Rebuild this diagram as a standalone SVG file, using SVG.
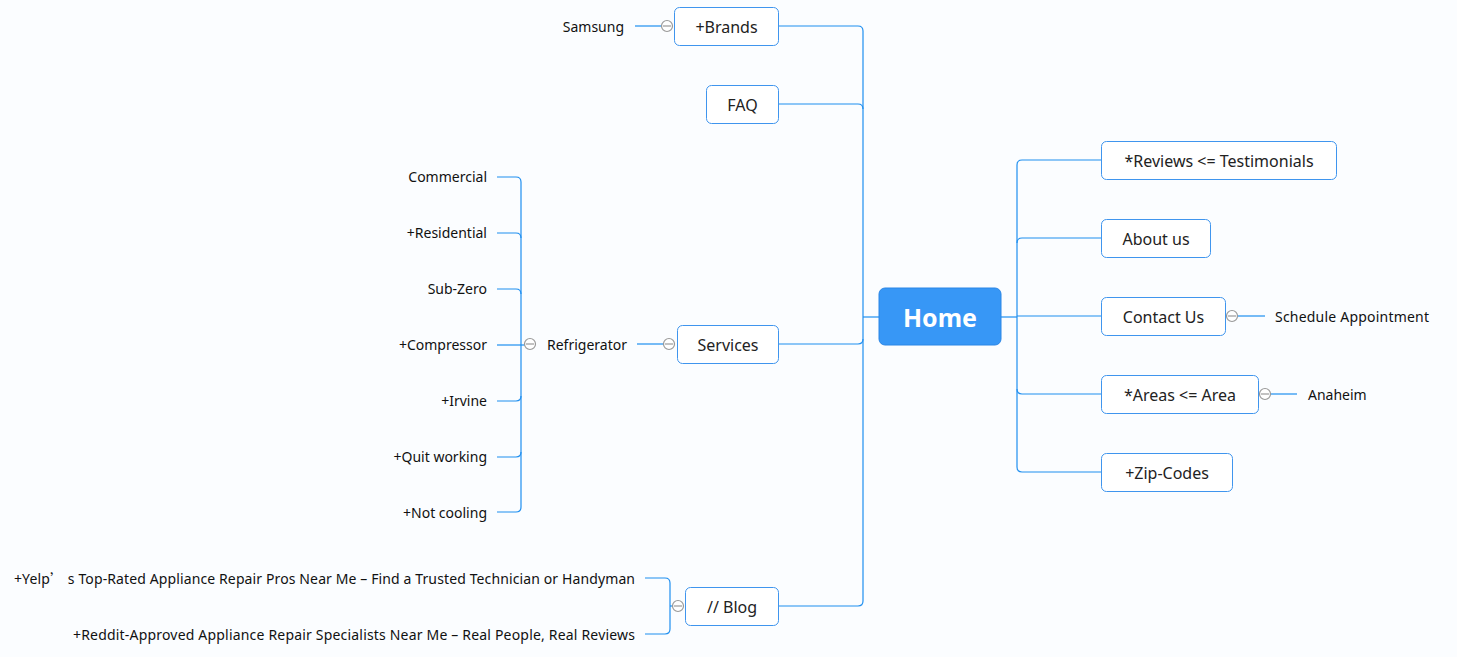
<svg xmlns="http://www.w3.org/2000/svg" width="1457" height="657" viewBox="0 0 1457 657">
<style>
.bg{fill:#fbfdff}
.node{fill:#ffffff;stroke:#3f95ee;stroke-width:1}
.root{fill:#3797f6;stroke:#2b86e6;stroke-width:1}
.t{font-family:"Noto Sans","Open Sans",sans-serif;font-size:16px;fill:#222;text-anchor:middle;dominant-baseline:central}
.s{font-family:"Noto Sans","Open Sans",sans-serif;font-size:14px;fill:#111;dominant-baseline:central}
.r{text-anchor:end}
.cjk{font-family:"Noto Sans CJK SC",sans-serif}
.rt{font-family:"Noto Sans","Open Sans",sans-serif;font-size:25px;font-weight:bold;fill:#fff;text-anchor:middle;dominant-baseline:central}
.c{fill:none;stroke:#1f8ff0;stroke-width:1.2}
.col circle{fill:#fff;stroke:#999;stroke-width:1.2}
.col line{stroke:#999;stroke-width:1.2}
</style>
<rect class="bg" x="0" y="0" width="1457" height="657"/>
<g id="connectors">
  <path class="c" d="M1001 317 H1017"/>
  <path class="c" d="M1101 160 H1022 Q1017 160 1017 165 V467 Q1017 472 1022 472 H1101"/>
  <path class="c" d="M1017 243 Q1017 238 1022 238 H1101"/>
  <path class="c" d="M1017 316 H1101"/>
  <path class="c" d="M1017 389 Q1017 394 1022 394 H1101"/>
  <path class="c" d="M879 317 H863"/>
  <path class="c" d="M778 26 H858 Q863 26 863 31 V601 Q863 606 858 606 H778"/>
  <path class="c" d="M778 104 H858 Q863 104 863 109"/>
  <path class="c" d="M778 344 H858 Q863 344 863 339"/>
  <path class="c" d="M1237 316 H1265"/>
  <path class="c" d="M1270 394 H1297"/>
  <path class="c" d="M662 26 H635"/>
  <path class="c" d="M664 344 H637"/>
  <path class="c" d="M497 177 H516 Q521 177 521 182 V507 Q521 512 516 512 H497"/>
  <path class="c" d="M497 233 H516 Q521 233 521 238"/>
  <path class="c" d="M497 289 H516 Q521 289 521 294"/>
  <path class="c" d="M497 345 H525"/>
  <path class="c" d="M497 401 H516 Q521 401 521 396"/>
  <path class="c" d="M497 457 H516 Q521 457 521 452"/>
  <path class="c" d="M645 578 H665 Q670 578 670 583 V629 Q670 634 665 634 H645"/>
  <path class="c" d="M670 606 H673"/>
</g>
<g id="home"><rect class="root" x="879" y="288" width="122" height="57" rx="6"/><text class="rt" x="940" y="317">Home</text></g>
<g id="reviews"><rect class="node" x="1101.5" y="141.5" width="235" height="38" rx="5"/><text class="t" x="1219" y="161">*Reviews &lt;= Testimonials</text></g>
<g id="about"><rect class="node" x="1101.5" y="219.5" width="109" height="38" rx="5"/><text class="t" x="1156" y="239">About us</text></g>
<g id="contact"><rect class="node" x="1101.5" y="297.5" width="124" height="38" rx="5"/><text class="t" x="1163.5" y="317">Contact Us</text></g>
<g id="areas"><rect class="node" x="1101.5" y="375.5" width="157" height="38" rx="5"/><text class="t" x="1180" y="395">*Areas &lt;= Area</text></g>
<g id="zip"><rect class="node" x="1101.5" y="453.5" width="131" height="38" rx="5"/><text class="t" x="1167" y="473">+Zip-Codes</text></g>
<g id="schedule"><text class="s" x="1275" y="316" textLength="154" lengthAdjust="spacing">Schedule Appointment</text></g>
<g id="anaheim"><text class="s" x="1308" y="394">Anaheim</text></g>
<g id="brands"><rect class="node" x="674.5" y="7.5" width="104" height="38" rx="5"/><text class="t" x="726.5" y="27">+Brands</text></g>
<g id="faq"><rect class="node" x="706.5" y="85.5" width="72" height="38" rx="5"/><text class="t" x="742.5" y="105">FAQ</text></g>
<g id="services"><rect class="node" x="677.5" y="325.5" width="101" height="38" rx="5"/><text class="t" x="728" y="345">Services</text></g>
<g id="blog"><rect class="node" x="685.5" y="587.5" width="93" height="38" rx="5"/><text class="t" x="732" y="607">// Blog</text></g>
<g id="samsung"><text class="s r" x="624" y="26">Samsung</text></g>
<g id="refrigerator"><text class="s r" x="627" y="344">Refrigerator</text></g>
<g id="commercial"><text class="s r" x="487" y="176">Commercial</text></g>
<g id="residential"><text class="s r" x="487" y="232">+Residential</text></g>
<g id="subzero"><text class="s r" x="487" y="288">Sub-Zero</text></g>
<g id="compressor"><text class="s r" x="487" y="344">+Compressor</text></g>
<g id="irvine"><text class="s r" x="487" y="400">+Irvine</text></g>
<g id="quit"><text class="s r" x="487" y="456">+Quit working</text></g>
<g id="notcooling"><text class="s r" x="487" y="512">+Not cooling</text></g>
<g id="yelp"><text class="s" x="14" y="578" textLength="621" lengthAdjust="spacing">+Yelp<tspan class="cjk">’</tspan> s Top-Rated Appliance Repair Pros Near Me – Find a Trusted Technician or Handyman</text></g>
<g id="reddit"><text class="s" x="73" y="634" textLength="562" lengthAdjust="spacing">+Reddit-Approved Appliance Repair Specialists Near Me – Real People, Real Reviews</text></g>
<g id="collapsers" class="col">
  <g><circle cx="1232" cy="316" r="5.5"/><line x1="1228" y1="316" x2="1236" y2="316"/></g>
  <g><circle cx="1265" cy="394" r="5.5"/><line x1="1261" y1="394" x2="1269" y2="394"/></g>
  <g><circle cx="667" cy="26" r="5.5"/><line x1="663" y1="26" x2="671" y2="26"/></g>
  <g><circle cx="669" cy="344" r="5.5"/><line x1="665" y1="344" x2="673" y2="344"/></g>
  <g><circle cx="530" cy="344" r="5.5"/><line x1="526" y1="344" x2="534" y2="344"/></g>
  <g><circle cx="678" cy="606" r="5.5"/><line x1="674" y1="606" x2="682" y2="606"/></g>
</g>
</svg>
